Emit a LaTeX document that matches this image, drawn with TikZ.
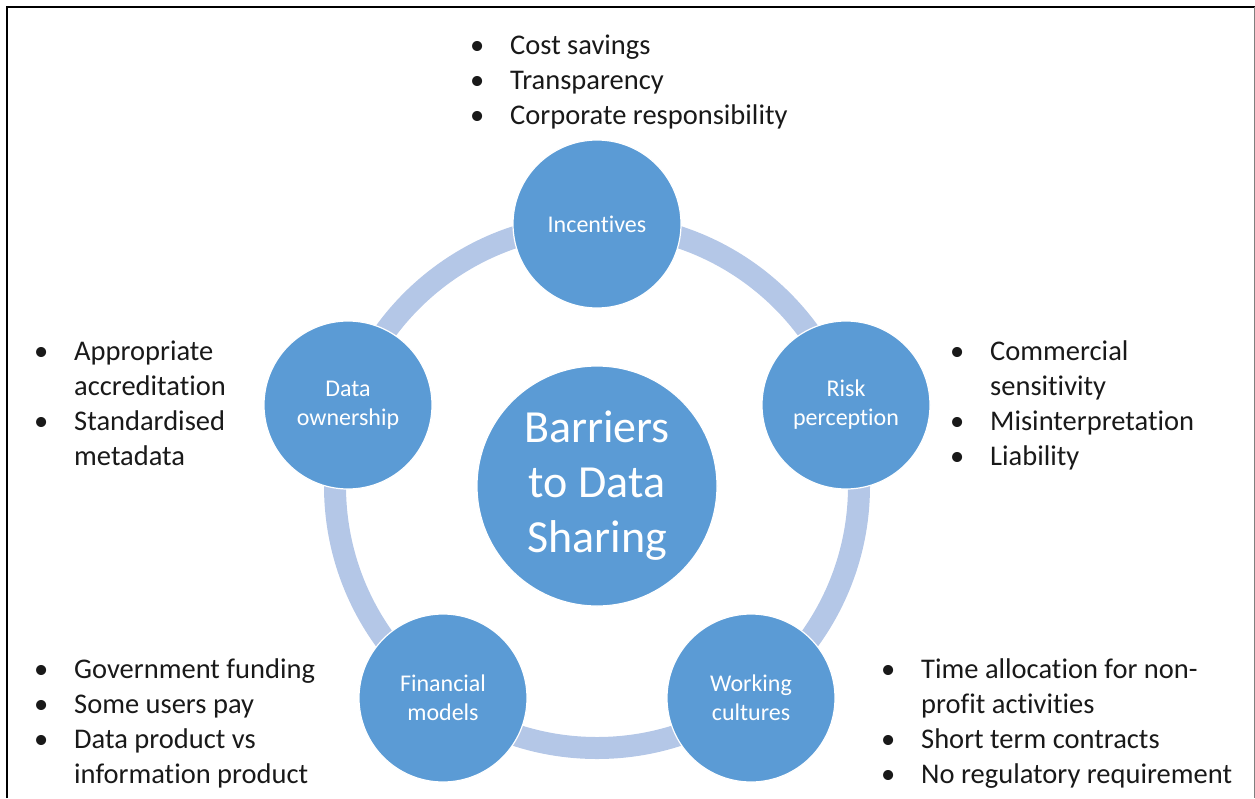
\documentclass[tikz,border=0pt]{standalone}
\usepackage{fontspec}
\setmainfont{Carlito}[Ligatures=NoCommon]
\usepackage{array}
\definecolor{nodeblue}{RGB}{91,155,213}
\definecolor{ringblue}{RGB}{180,199,231}
\definecolor{notegray}{RGB}{25,25,25}
\tikzset{
    topic/.style={circle, fill=nodeblue, draw=white, line width=1.2pt,
        minimum size=168pt, inner sep=0pt, text=white, align=center,
        font=\fontsize{24}{29}\selectfont},
    hub/.style={topic, minimum size=240pt, font=\fontsize{46}{55}\selectfont},
    notes/.style={anchor=base west, inner sep=0pt, text=notegray,
        font=\fontsize{28.5}{35}\selectfont},
}
\newcommand{\notelist}[1]{\begin{tabular}[t]{@{}p{40pt}@{}l@{}}#1\end{tabular}}

\begin{document}
\begin{tikzpicture}[x=1pt, y=-1pt]
    \useasboundingbox (0,0) rectangle (1255,798);
    % frame
    \draw[line width=2pt] (7,798) -- (7,7) -- (1255,7);
    \draw[gray, line width=1pt] (1254,7) -- (1254,798);
    % ring behind the topics
    \coordinate (c) at (597,486);
    \draw[ringblue, line width=22pt] (c) circle[radius=262];
    \node[hub] (hub) at (c) {Barriers\\to Data\\Sharing};
    \node[topic] (incentives) at (597,224) {Incentives};
    \node[topic] (risk) at (846,405) {Risk\\perception};
    \node[topic] (working) at (751,698) {Working\\cultures};
    \node[topic] (financial) at (443,698) {Financial\\models};
    \node[topic] (ownership) at (348,405) {Data\\ownership};
    % bullet lists
    \node[notes] (incentives-notes) at (470,54) {\notelist{
        \textbullet & Cost savings\\
        \textbullet & Transparency\\
        \textbullet & Corporate responsibility}};
    \node[notes] (risk-notes) at (950,360) {\notelist{
        \textbullet & Commercial\\
                    & sensitivity\\
        \textbullet & Misinterpretation\\
        \textbullet & Liability}};
    \node[notes] (ownership-notes) at (34,360) {\notelist{
        \textbullet & Appropriate\\
                    & accreditation\\
        \textbullet & Standardised\\
                    & metadata}};
    \node[notes] (financial-notes) at (34,678) {\notelist{
        \textbullet & Government funding\\
        \textbullet & Some users pay\\
        \textbullet & Data product vs\\
                    & information product}};
    \node[notes] (working-notes) at (881,678) {\notelist{
        \textbullet & Time allocation for non-\\
                    & profit activities\\
        \textbullet & Short term contracts\\
        \textbullet & No regulatory requirement}};
\end{tikzpicture}
\end{document}
